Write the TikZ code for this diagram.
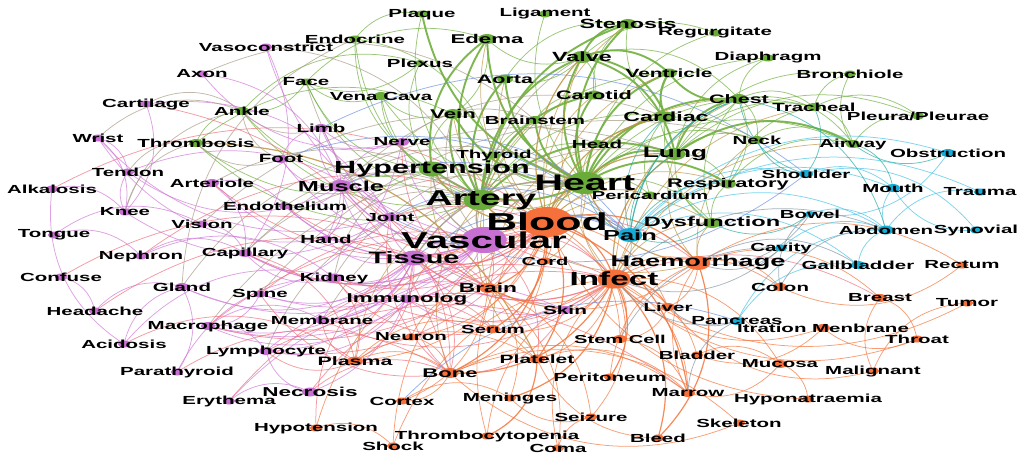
\documentclass[tikz,border=0pt]{standalone}
\usepackage{fontspec}
\setsansfont{Liberation Sans}
\definecolor{cG}{RGB}{106,172,58}
\definecolor{cP}{RGB}{200,112,210}
\definecolor{cO}{RGB}{245,112,58}
\definecolor{cB}{RGB}{22,172,214}
\definecolor{eGG}{RGB}{112,176,62}
\definecolor{eGO}{RGB}{192,150,70}
\definecolor{eGP}{RGB}{168,155,135}
\definecolor{ePP}{RGB}{208,120,215}
\definecolor{ePO}{RGB}{238,112,125}
\definecolor{eOO}{RGB}{245,118,60}
\definecolor{eBG}{RGB}{40,172,160}
\definecolor{eBO}{RGB}{130,150,165}
\definecolor{eBP}{RGB}{110,145,225}
\definecolor{eBB}{RGB}{70,195,230}
\newcommand\drawedges[2]{\foreach \ea/\eb in {#2} \draw[#1] (\ea) to (\eb);}
\def\nodelist{%
Plaque/422/14/cG/3.5/11.7/Plaque,
Ligament/545/14/cG/3.5/11.7/Ligament,
Stenosis/628/24/cG/5/13.3/Stenosis,
Regurgitate/715/33/cG/3.5/11.7/Regurgitate,
Endocrine/355/39/cG/3.5/11.7/Endocrine,
Edema/487/39/cG/5/12.7/Edema,
Vasoconstrict/266/47/cP/3.5/11.7/Vasoconstrict,
Diaphragm/768/58/cG/3.5/11.7/Diaphragm,
Valve/582/57/cG/6/13.3/Valve,
Plexus/420/63/cG/3/11.7/Plexus,
Axon/202/74/cP/3.5/11.7/Axon,
Face/306/82/cG/3.5/11.7/Face,
Aorta/505/79/cG/4.5/12.3/Aorta,
Ventricle/669/73/cG/4.5/11.9/Ventricle,
Bronchiole/850/74/cG/3.5/11.7/Bronchiole,
Cartilage/146/104/cP/3.5/11.7/Cartilage,
Ankle/242/111/cG/4/11.7/Ankle,
VenaCava/381/96/cG/4/11.7/Vena Cava,
Carotid/594/95/cG/4.5/12.4/Carotid,
Chest/739/99/cG/5/12.3/Chest,
Tracheal/814/107/cG/4/11.7/Tracheal,
Pleura/918/116/cG/3.5/11.7/{Pleura/Pleurae},
Vein/453/114/cG/5/12.7/Vein,
Brainstem/535/120/cG/4/11.7/Brainstem,
Cardiac/666/117/cG/5.5/13.3/Cardiac,
Limb/321/128/cP/4/11.7/Limb,
Wrist/98/138/cP/3.5/11.7/Wrist,
Thrombosis/196/143/cG/4/11.7/Thrombosis,
Nerve/402/142/cP/4/11.7/Nerve,
Head/597/144/cG/4/11.7/Head,
Neck/757/140/cG/4/11.7/Neck,
Airway/853/144/cG/4/11.7/Airway,
Thyroid/494/155/cG/3.5/11.7/Thyroid,
Lung/675/154/cG/6/15/Lung,
Obstruction/948/153/cB/4/11.7/Obstruction,
Foot/281/159/cP/4/11.7/Foot,
Tendon/128/172/cP/3.5/11.7/Tendon,
Hypertension/432/169/cG/7.5/17.5/Hypertension,
Heart/585/183/cG/11/22.5/Heart,
Respiratory/728/184/cG/4.5/12.5/Respiratory,
Shoulder/806/174/cB/4/11.7/Shoulder,
Alkalosis/52/189/cP/3.5/11.7/Alkalosis,
Arteriole/212/183/cP/4/11.7/Arteriole,
Muscle/341/186/cP/6/14.5/Muscle,
Artery/481/200/cG/10/21.5/Artery,
Pericardium/650/195/cG/3.5/11.5/Pericardium,
Mouth/893/188/cB/4/11.7/Mouth,
Trauma/980/192/cB/3.5/11.7/Trauma,
Knee/125/212/cP/3.5/11.7/Knee,
Endothelium/285/206/cP/3.5/11.7/Endothelium,
Blood/547/222/cO/15/24.5/Blood,
Dysfunction/712/223/cG/5/13.5/Dysfunction,
Bowel/810/214/cB/3/11.7/Bowel,
Abdomen/886/230/cB/4.5/11.7/Abdomen,
Synovial/976/230/cB/3.5/11.7/Synovial,
Vision/202/224/cP/3.5/11.7/Vision,
Joint/390/217/cP/4/11.7/Joint,
Tongue/54/235/cP/3.5/11.7/Tongue,
Vascular/484/240/cP/13/23/Vascular,
Pain/630/235/cB/7/14.5/Pain,
Cavity/781/248/cB/3.5/11.7/Cavity,
Hand/326/239/cP/3.5/11.7/Hand,
Nephron/141/256/cP/3.5/11.7/Nephron,
Capillary/245/253/cP/4/11.7/Capillary,
Tissue/414/258/cP/7.5/16.5/Tissue,
Cord/545/261/cO/3.5/11.5/Cord,
Haemorrhage/698/263/cO/7/15.5/Haemorrhage,
Gallbladder/858/265/cB/4/11.7/Gallbladder,
Rectum/962/265/cO/3.5/11.7/Rectum,
Kidney/334/278/cP/4.5/11.7/Kidney,
Confuse/61/277/cP/3.5/11.7/Confuse,
Infect/614/279/cO/9.5/19/Infect,
Gland/182/287/cP/4/11.7/Gland,
Spine/260/294/cP/3.5/11.7/Spine,
Brain/488/288/cO/5/13/Brain,
Immunolog/407/299/cP/4/12.8/Immunolog,
Colon/780/287/cO/4/11.7/Colon,
Breast/880/298/cO/4/11.7/Breast,
Tumor/967/303/cO/3.5/11.7/Tumor,
Headache/95/311/cP/3.5/11.7/Headache,
Skin/565/310/cP/4/11.9/Skin,
Liver/668/307/cO/4/11.7/Liver,
Membrane/322/320/cP/4/11.7/Membrane,
Macrophage/208/326/cP/4/11.7/Macrophage,
Pancreas/737/321/cB/4/11.7/Pancreas,
Itration/823/328/cO/4/11.7/Itration Menbrane,
Neuron/411/337/cO/3.5/11.7/Neuron,
Serum/493/329/cO/4/11.7/Serum,
Throat/917/339/cO/3.5/11.7/Throat,
StemCell/620/339/cO/4/11.5/Stem Cell,
Acidosis/124/344/cP/3.5/11.7/Acidosis,
Lymphocyte/266/351/cP/4/11.7/Lymphocyte,
Plasma/355/361/cO/4.5/12.2/Plasma,
Platelet/537/359/cO/4.5/12/Platelet,
Bladder/697/355/cO/3.5/11.7/Bladder,
Mucosa/780/364/cO/4/11.7/Mucosa,
Parathyroid/177/372/cP/3.5/11.7/Parathyroid,
Bone/450/373/cO/5/12.6/Bone,
Peritoneum/610/377/cO/3.5/11.7/Peritoneum,
Malignant/873/371/cO/3.5/11.7/Malignant,
Necrosis/310/392/cP/4.5/12.9/Necrosis,
Marrow/688/393/cO/4/11.7/Marrow,
Erythema/229/401/cP/3.5/11.7/Erythema,
Cortex/402/401/cO/3.5/11.7/Cortex,
Meninges/510/398/cO/3.5/11.7/Meninges,
Hyponatraemia/808/399/cO/3.5/11.7/Hyponatraemia,
Seizure/591/417/cO/3.5/11.7/Seizure,
Hypotension/316/428/cO/3.5/11.7/Hypotension,
Skeleton/739/423/cO/3.5/11.7/Skeleton,
Thrombocytopenia/487/436/cO/3.5/11.7/Thrombocytopenia,
Bleed/658/438/cO/3.5/11.7/Bleed,
Shock/393/446/cO/3.5/11.7/Shock,
Coma/558/448/cO/3.5/11.7/Coma}
\begin{document}
\begin{tikzpicture}[x=1pt,y=-1pt,
  e/.style={bend left=32, line width=0.75pt, draw opacity=0.7},
  E/.style={bend left=32, line width=1.9pt, draw opacity=0.9},
  M/.style={bend left=32, line width=1.2pt, draw opacity=0.85},
  lab/.style={inner sep=0pt, xscale=1.75, text=black}]
\fill[white] (0,0) rectangle (1017,455);
\useasboundingbox (0,0) rectangle (1017,455);
\foreach \n/\x/\y/\c/\r/\s/\t in \nodelist { \coordinate (\n) at (\x,\y); }
% ---- green-green
\drawedges{E,eGG}{Heart/Valve,Heart/Aorta,Heart/Ventricle,Heart/Carotid,Heart/Cardiac,Heart/Lung,Heart/Chest,Heart/Stenosis,Heart/Edema,Heart/Vein,Artery/Valve,Artery/Aorta,Artery/Carotid,Artery/Vein,Artery/Stenosis,Valve/Stenosis,Valve/Ventricle,Valve/Lung,Lung/Chest,Cardiac/Ventricle,Artery/Edema,Heart/Brainstem,Heart/Plaque,Artery/Lung,Heart/Hypertension,Hypertension/Edema,Valve/Cardiac,Heart/Respiratory,Lung/Airway,Chest/Ventricle}
\drawedges{e,eGG}{Heart/Head,Heart/Regurgitate,Heart/Pericardium,Heart/Dysfunction,Heart/Artery,Heart/Neck,Heart/Airway,Heart/Tracheal,Heart/Diaphragm,Heart/Thyroid,Heart/VenaCava,Heart/Ligament,Artery/Plaque,Artery/Ventricle,Artery/Cardiac,Artery/Hypertension,Artery/Thrombosis,Artery/Face,Artery/Endocrine,Artery/Ankle,Artery/VenaCava,Artery/Brainstem,Artery/Head,Valve/Regurgitate,Valve/Aorta,Valve/Carotid,Valve/Chest,Valve/Edema,Lung/Tracheal,Lung/Respiratory,Lung/Bronchiole,Lung/Pleura,Lung/Diaphragm,Lung/Ventricle,Lung/Cardiac,Lung/Neck,Chest/Tracheal,Chest/Airway,Chest/Diaphragm,Chest/Respiratory,Chest/Cardiac,Chest/Neck,Tracheal/Airway,Tracheal/Bronchiole,Airway/Pleura,Airway/Bronchiole,Respiratory/Airway,Respiratory/Tracheal,Hypertension/Vein,Hypertension/Endocrine,Hypertension/Face,Hypertension/Ankle,Hypertension/Thrombosis,Hypertension/Plexus,Hypertension/VenaCava,Cardiac/Stenosis,Carotid/Stenosis,Aorta/Stenosis,Edema/Vein,Vein/VenaCava,Thrombosis/Vein,Thrombosis/Ankle,Face/Edema,Face/Ankle,Endocrine/Plaque,Endocrine/Thyroid,Dysfunction/Respiratory,Dysfunction/Lung,Dysfunction/Cardiac,Dysfunction/Chest,Pericardium/Cardiac,Brainstem/Carotid,Head/Neck,Neck/Airway,Tracheal/Pleura,Plexus/Face,VenaCava/Face,Ankle/Plexus}
% ---- green-orange
\drawedges{M,eGO}{Blood/Heart,Blood/Artery,Blood/Valve,Blood/Lung,Blood/Hypertension,Thrombosis/Platelet,Blood/Cardiac,Haemorrhage/Heart,Infect/Lung}
\drawedges{e,eGO}{Blood/Vein,Blood/Aorta,Blood/Carotid,Blood/Chest,Blood/Respiratory,Blood/Dysfunction,Blood/Ventricle,Infect/Respiratory,Infect/Heart,Infect/Chest,Haemorrhage/Artery,Haemorrhage/Lung,Brain/Brainstem,Brain/Head,Bone/Artery,Infect/Airway,Infect/Dysfunction,Haemorrhage/Dysfunction,Blood/Pericardium,Blood/Stenosis,Blood/Edema,Plasma/Artery,Brain/Hypertension,Haemorrhage/Neck,Infect/Tracheal,Platelet/Artery,Serum/Heart,Blood/Thyroid,Heart/Cord,Infect/Valve}
% ---- green-purple
\drawedges{M,eGP}{Vascular/Artery,Vascular/Heart,Vascular/Hypertension,Tissue/Heart}
\drawedges{e,eGP}{Muscle/Heart,Muscle/Artery,Vascular/Vein,Knee/Thrombosis,Tendon/Thrombosis,Cartilage/Ankle,Wrist/Ankle,Gland/Endocrine,Capillary/Artery,Arteriole/Artery,Endothelium/Artery,Nerve/Brainstem,Limb/Ankle,Foot/Ankle,Kidney/Hypertension,Vasoconstrict/Artery,Axon/Brainstem,Spine/Neck,Joint/Heart,Hand/Artery,Tissue/Artery,Tissue/Lung,Vascular/Valve,Muscle/Cardiac,Gland/Thyroid,Immunolog/Heart,Membrane/Heart,Capillary/Lung,Knee/Ankle,Foot/Thrombosis,Vision/Head,Kidney/Artery,Skin/Face,Lymphocyte/Artery,Macrophage/Heart}
% ---- purple-purple
\drawedges{M,ePP}{Vascular/Tissue,Vascular/Muscle,Tissue/Membrane,Vascular/Capillary,Vascular/Endothelium}
\drawedges{e,ePP}{Vascular/Arteriole,Vascular/Limb,Vascular/Foot,Vascular/Kidney,Vascular/Joint,Vascular/Nerve,Vascular/Vasoconstrict,Vascular/Immunolog,Vascular/Spine,Vascular/Gland,Vascular/Macrophage,Tissue/Muscle,Tissue/Macrophage,Tissue/Lymphocyte,Tissue/Necrosis,Tissue/Joint,Tissue/Hand,Tissue/Kidney,Tissue/Spine,Tissue/Gland,Muscle/Tendon,Muscle/Joint,Muscle/Limb,Muscle/Nerve,Muscle/Hand,Muscle/Endothelium,Muscle/Foot,Joint/Knee,Joint/Wrist,Joint/Hand,Knee/Tendon,Wrist/Tendon,Nerve/Axon,Nerve/Spine,Nerve/Limb,Gland/Parathyroid,Macrophage/Lymphocyte,Immunolog/Lymphocyte,Immunolog/Macrophage,Acidosis/Alkalosis,Acidosis/Kidney,Nephron/Kidney,Vasoconstrict/Capillary,Erythema/Skin,Necrosis/Lymphocyte,Confuse/Headache,Tongue/Nephron,Headache/Gland,Acidosis/Gland,Macrophage/Membrane,Kidney/Capillary,Axon/Muscle,Cartilage/Joint,Cartilage/Knee,Wrist/Knee,Tendon/Joint,Arteriole/Capillary,Alkalosis/Knee,Tongue/Vision,Vision/Capillary,Nephron/Capillary,Spine/Macrophage,Parathyroid/Kidney,Erythema/Necrosis,Skin/Tissue,Skin/Immunolog,Lymphocyte/Skin,Hand/Wrist,Foot/Limb,Arteriole/Endothelium,Limb/Hand}
% ---- purple-orange
\drawedges{M,ePO}{Blood/Vascular,Blood/Tissue,Infect/Tissue}
\drawedges{e,ePO}{Blood/Muscle,Blood/Kidney,Blood/Capillary,Blood/Membrane,Infect/Skin,Infect/Immunolog,Plasma/Membrane,Plasma/Lymphocyte,Bone/Joint,Bone/Spine,Bone/Tissue,Brain/Nerve,Serum/Kidney,Acidosis/Plasma,Blood/Endothelium,Blood/Arteriole,Blood/Macrophage,Blood/Lymphocyte,Infect/Membrane,Infect/Kidney,Vascular/Brain,Vascular/Infect,Vascular/Platelet,Vascular/Haemorrhage,Tissue/Bone,Tissue/Brain,Tissue/Plasma,Muscle/Bone,Nephron/Blood,Capillary/Plasma,Kidney/Plasma,Spine/Cord,Necrosis/Infect,Necrosis/Bone,Erythema/Infect,Hypotension/Tissue,Lymphocyte/Marrow,Skin/Breast,Skin/Bone,Macrophage/Infect,Membrane/Serum,Headache/Brain,Confuse/Brain,Parathyroid/Bone,Alkalosis/Blood,Cartilage/Bone,Joint/Infect,Immunolog/Serum}
% ---- orange-orange
\drawedges{M,eOO}{Blood/Infect,Blood/Haemorrhage,Blood/Platelet,Blood/Bone,Infect/Bone,Blood/Brain,Infect/Liver,Infect/Meninges,Blood/Serum,Infect/Bleed,Infect/Peritoneum,Haemorrhage/Bleed,Platelet/Thrombocytopenia,Blood/Marrow}
\drawedges{e,eOO}{Blood/Plasma,Blood/StemCell,Blood/Cord,Blood/Liver,Blood/Neuron,Infect/Bladder,Infect/Seizure,Infect/Marrow,Infect/Mucosa,Infect/Colon,Infect/Brain,Infect/Serum,Infect/Platelet,Infect/StemCell,Infect/Haemorrhage,Haemorrhage/Colon,Haemorrhage/Liver,Haemorrhage/Brain,Haemorrhage/Rectum,Haemorrhage/Breast,Platelet/Marrow,Bone/Marrow,Bone/Skeleton,Bone/Cortex,Brain/Meninges,Brain/Seizure,Brain/Coma,Brain/Cortex,StemCell/Marrow,Mucosa/Hyponatraemia,Malignant/Breast,Malignant/Tumor,Breast/Throat,Throat/Itration,Rectum/Colon,Hypotension/Shock,Shock/Blood,Coma/Seizure,Neuron/Brain,Plasma/Serum,Itration/Infect,Malignant/Liver,Hyponatraemia/Blood,Skeleton/Bone,Thrombocytopenia/Blood,Thrombocytopenia/Infect,Bladder/Mucosa,Peritoneum/Haemorrhage,Cortex/Meninges,Plasma/Bone,Plasma/Platelet,Neuron/Bone,Seizure/Meninges,Coma/Infect,Bleed/Platelet,Throat/Infect,Tumor/Infect,Mucosa/Marrow,Itration/Bladder,Cord/Bone,Serum/Platelet,Liver/StemCell,Hypotension/Blood,Shock/Infect,Marrow/Haemorrhage}
% ---- blue groups
\drawedges{e,eBB}{Pain/Abdomen,Pain/Shoulder,Pain/Mouth,Pain/Obstruction,Pain/Trauma,Abdomen/Mouth,Abdomen/Trauma,Synovial/Mouth,Obstruction/Bowel,Gallbladder/Abdomen,Pancreas/Abdomen,Cavity/Abdomen,Bowel/Abdomen,Pancreas/Gallbladder,Shoulder/Synovial,Pain/Gallbladder,Shoulder/Mouth}
\drawedges{M,eBG}{Pain/Chest}
\drawedges{e,eBG}{Pain/Heart,Pain/Lung,Obstruction/Airway,Shoulder/Neck,Dysfunction/Pain,Chest/Abdomen,Pain/Respiratory,Bowel/Dysfunction,Airway/Mouth,Tracheal/Shoulder,Pain/Cardiac,Shoulder/Chest}
\drawedges{e,eBO}{Infect/Abdomen,Haemorrhage/Gallbladder,Colon/Bowel,Pancreas/Liver,Cavity/Infect,Blood/Pain,Pain/Infect,Cavity/Haemorrhage,Pancreas/Infect,Colon/Abdomen,Bowel/Haemorrhage,Marrow/Pancreas,StemCell/Cavity}
\drawedges{e,eBP}{Nerve/Pain,Foot/Pain,Muscle/Pain,Joint/Pain,Shoulder/Joint,Tissue/Pain,Vascular/Pain,Cortex/Pancreas,Limb/Shoulder}
% ---- dots and labels
\foreach \n/\x/\y/\c/\r/\s/\t in \nodelist {
  \fill[\c] (\n) ellipse [x radius={1.75*\r pt}, y radius={\r pt}];
}
\foreach \n/\x/\y/\c/\r/\s/\t in \nodelist {
  \node[lab, font={\fontsize{\s}{\s}\selectfont\sffamily\bfseries}] (\n-l) at (\n) {\t};
}
\end{tikzpicture}
\end{document}
